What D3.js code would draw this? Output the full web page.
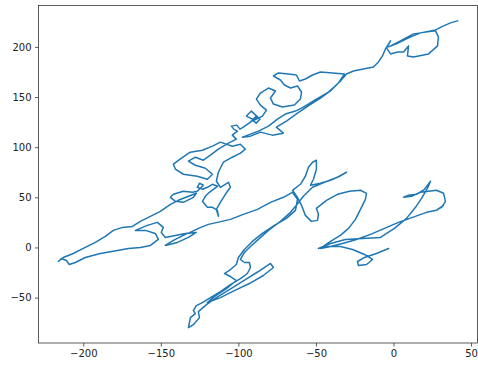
<!DOCTYPE html>
<html>
<head>
<meta charset="utf-8">
<script src="https://cdn.jsdelivr.net/npm/d3@7"></script>
<style>
html,body{margin:0;padding:0;background:#fff;}
svg{display:block;}
</style>
</head>
<body>
<script>
// Random-walk path, in data units, split into consecutive stretches
const segA = [[-3.2,-1],[-11,-6],[-18.7,-10],[-23.2,-14],[-22.6,-18],[-17.4,-17],[-13.5,-12],[-18.7,-7],[-26.4,-2],[-34.2,1],[-41.9,1],[-48.4,-1],[-40.6,4],[-31,8],[-20,9],[-8.4,10],[0.6,19],[8.4,29],[14.2,40],[18.1,49],[21.9,59],[23.9,66],[20,58],[14.8,53],[9.7,52],[6.5,50],[11.6,51],[17.4,55],[22.6,56],[27.7,57],[32.3,54],[33.5,46],[31,40],[28.4,38],[32.3,42],[27.7,37],[21.3,35],[12.3,30],[3.2,25],[-5.8,19],[-14.8,13],[-23.9,8],[-32.9,4],[-40.6,1],[-47.1,-1]];
const segB = [[-40.6,6],[-34.2,12],[-29,19],[-24.5,28],[-21.3,38],[-18.1,48],[-17.4,54],[-21.3,57],[-28.4,56],[-36.1,53],[-43.2,47],[-49.7,39],[-48.4,33],[-49,27],[-52.9,26],[-56.8,32],[-59.3,42],[-61.9,50],[-65.1,57],[-60,63],[-56.8,71],[-54.8,80],[-52.2,85],[-49.7,87],[-49.7,78],[-51.6,68],[-53.5,62],[-47.1,64],[-40.6,67],[-34.8,71],[-30.3,75],[-36.1,70],[-44.5,65],[-52.2,60],[-58.1,51],[-62.6,42],[-66.4,35],[-72.9,26],[-80.6,17],[-87.1,8],[-92.2,1],[-96.1,-5],[-98.7,-12]];
const segC = [[-96.1,-15],[-92.9,-15],[-92.2,-20],[-94.2,-26],[-98.7,-31],[-105.1,-37],[-111.6,-44],[-118,-50],[-123.2,-55],[-127.1,-58],[-129,-63],[-127.7,-66],[-130.9,-70],[-132.2,-80],[-129,-77],[-125.1,-70],[-125.8,-64],[-120.6,-57],[-114.2,-50],[-105.8,-42],[-95.5,-32],[-87.1,-24],[-79.3,-16],[-77.4,-20],[-83.9,-28],[-92.9,-36],[-102.6,-43],[-111.6,-50],[-120,-55],[-115.5,-49],[-107.7,-41],[-101.3,-33],[-105.1,-29],[-109,-26],[-105.1,-22],[-101.3,-17],[-100,-10],[-96.1,-2],[-91,6],[-84.5,14],[-76.8,22],[-69,29],[-63.2,37],[-61.9,48],[-65.1,55],[-71,50],[-79.3,45],[-87.7,38],[-96.8,33],[-105.1,28],[-113.5,25]];
const segD = [[-119.3,23],[-125.8,19],[-129.7,16],[-135.5,12],[-141.9,7],[-147.1,2],[-139.3,5],[-132.2,10],[-127.1,15],[-134.2,14],[-140.6,12],[-147.1,10],[-149.7,15],[-148.4,20],[-152.2,25],[-158.7,22],[-166.4,17],[-160,17],[-153.5,14],[-151.6,8],[-156.7,2],[-163.2,0],[-170.9,-1],[-178,-3],[-189,-6],[-198.7,-10],[-205.1,-15],[-209,-17],[-210.9,-13],[-214.1,-11],[-216,-14],[-212.9,-10],[-206.4,-6],[-200,-1],[-192.2,5],[-185.8,11],[-180.6,17],[-174.8,20],[-168.3,21],[-163.2,26],[-156.7,31],[-150.3,36],[-143.8,43],[-138.7,47],[-132.2,51],[-127.1,54]];
const segE = [[-129,50],[-135.5,45],[-140.6,46],[-143.8,50],[-141.9,53],[-135.5,56],[-129.7,55],[-126.5,56],[-124.5,59],[-122.6,62],[-125.1,64],[-126.5,60],[-123,58],[-120,60],[-116.7,63],[-113.5,61],[-118.7,55],[-121.3,51],[-123.2,46],[-120,40],[-116.7,40],[-113.5,37],[-112.9,31],[-114.2,38],[-111.6,45],[-108.4,53],[-105.1,60],[-106.4,65],[-111.6,60],[-114.2,66],[-112.9,75],[-109.7,85],[-103.9,90],[-98.7,94],[-95.5,98],[-98.7,103],[-103.9,101],[-111.6,105],[-116.7,101],[-123.2,97],[-131,95],[-136.7,89],[-141.9,83],[-140.6,78],[-135.5,73],[-126.5,71],[-120,68],[-116.7,73],[-121.3,79],[-127.7,82],[-132.2,86],[-127.7,90],[-122.6,87],[-118,92],[-112.9,98],[-106.4,104]];
const segF = [[-101.3,108],[-103.9,112],[-100.6,116],[-103,118],[-104.5,121],[-101,122],[-99,118],[-96.8,120],[-92.2,125],[-88.4,131],[-86,128],[-88.5,124],[-91,127],[-87.5,130],[-91.6,136],[-94.8,131],[-89.7,127],[-84.5,131],[-81.9,137],[-85.8,142],[-88.4,148],[-85.8,154],[-80.6,159],[-76.1,156],[-79.3,149],[-77.4,143],[-71.6,140],[-63.9,142],[-60,148],[-59.3,155],[-61.9,161],[-66.4,159],[-70.3,162],[-72.9,167],[-77.4,171],[-74.2,174],[-67.7,173],[-62.6,172],[-60.6,166],[-56.8,168],[-52.2,172],[-47.1,175],[-39.3,174],[-31.6,173],[-35.5,164],[-41.9,155],[-49.7,148],[-58.1,140],[-63.2,136],[-69.7,133],[-74.8,128],[-80.6,121],[-87.1,116],[-92.2,113],[-97.4,110],[-92.2,111],[-85.8,115],[-78.1,112],[-71,114],[-75.5,120],[-69,126],[-61.9,134],[-54.2,142],[-47.1,149],[-40,157],[-34.2,166],[-30.3,173]];
const segG = [[-25.8,176],[-19.4,178],[-12.9,180],[-9.7,185],[-7.1,191],[-5.2,198],[-1.9,206],[-4.5,199],[-1.9,193],[2.6,195],[6.5,195],[9.7,201],[9,191],[12.9,190],[22.6,193],[28.4,201],[29,210],[27.1,216],[21.9,215],[12.9,213],[4.5,206],[-3.2,200],[1.9,203],[9.7,209],[17.4,214],[27.1,217],[32.3,221],[36.8,224],[41.3,226]];

const xTicks = [-200, -150, -100, -50, 0, 50];
const yTicks = [-50, 0, 50, 100, 150, 200];

const W = 478, H = 369;
const plot = {left: 38.5, right: 477.5, top: 5.5, bottom: 343};

const walk = [].concat(segA, segB, segC, segD, segE, segF, segG);

function padded(ext) {
  const w = ext[1] - ext[0];
  return [ext[0] - 0.05 * w, ext[1] + 0.05 * w];
}
const x = d3.scaleLinear().domain(padded(d3.extent(walk, d => d[0]))).range([plot.left, plot.right]);
const y = d3.scaleLinear().domain(padded(d3.extent(walk, d => d[1]))).range([plot.bottom, plot.top]);

const svg = d3.select("body").append("svg").attr("width", W).attr("height", H);

const fmt = v => (v < 0 ? "\u2212" + Math.abs(v) : String(v));

svg.append("path")
  .datum(walk)
  .attr("fill", "none")
  .attr("stroke", "#1f77b4")
  .attr("stroke-width", 1.5)
  .attr("stroke-linejoin", "round")
  .attr("stroke-linecap", "square")
  .attr("d", d3.line().x(d => x(d[0])).y(d => y(d[1])));

const xAxis = svg.append("g")
  .attr("transform", `translate(0,${plot.bottom})`)
  .call(d3.axisBottom(x).tickValues(xTicks).tickFormat(fmt).tickSize(3.5).tickPadding(3.5));
const yAxis = svg.append("g")
  .attr("transform", `translate(${plot.left},0)`)
  .call(d3.axisLeft(y).tickValues(yTicks).tickFormat(fmt).tickSize(3.5).tickPadding(3.5));

[xAxis, yAxis].forEach(g => {
  g.select(".domain").remove();
  g.selectAll("line").attr("stroke", "#333").attr("stroke-width", 0.8);
  g.selectAll("text").attr("fill", "#222").style("font-family", "DejaVu Sans, sans-serif").style("font-size", "10px");
});

svg.append("rect")
  .attr("x", plot.left).attr("y", plot.top)
  .attr("width", plot.right - plot.left).attr("height", plot.bottom - plot.top)
  .attr("fill", "none").attr("stroke", "#333").attr("stroke-width", 0.8);
</script>
</body>
</html>
